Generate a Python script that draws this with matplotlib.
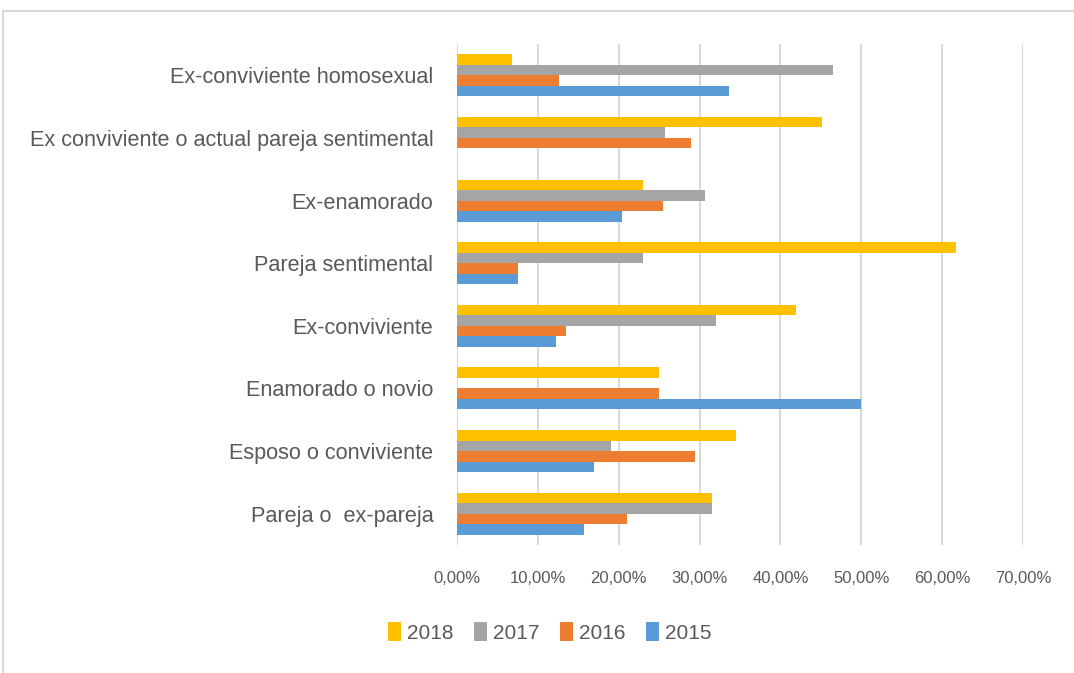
import matplotlib.pyplot as plt
import matplotlib.patches as mpatches
import numpy as np

# --------------------------------------------------------------
# Data (percent), categories listed bottom to top
# --------------------------------------------------------------
categories = [
    "Pareja o  ex-pareja",
    "Esposo o conviviente",
    "Enamorado o novio",
    "Ex-conviviente",
    "Pareja sentimental",
    "Ex-enamorado",
    "Ex conviviente o actual pareja sentimental",
    "Ex-conviviente homosexual",
]
years = ["2015", "2016", "2017", "2018"]
v2015 = [15.7, 16.9, 50.0, 12.2, 7.6, 20.4, 0.0, 33.7]
v2016 = [21.0, 29.4, 25.0, 13.5, 7.6, 25.5, 29.0, 12.6]
v2017 = [31.5, 19.0, 0.0, 32.0, 23.0, 30.7, 25.7, 46.5]
v2018 = [31.5, 34.5, 25.0, 41.9, 61.7, 23.0, 45.2, 6.8]
xticks = [0, 10, 20, 30, 40, 50, 60, 70]

colors = {"2015": "#5B9BD5", "2016": "#ED7D31", "2017": "#A5A5A5", "2018": "#FFC000"}

plt.rcParams["font.family"] = ["Liberation Sans", "DejaVu Sans"]

fig = plt.figure(figsize=(10.74, 6.73), dpi=100)
ax = fig.add_axes([0.4255, 0.1902, 0.5270, 0.7444])

# outer frame of the chart area (right and bottom edges are cut off)
fig.patches.append(mpatches.Rectangle((0.003, -0.05), 1.1, 1.034,
                                      transform=fig.transFigure, fill=False,
                                      edgecolor="#d9d9d9", linewidth=1.5))

y = np.arange(len(categories))
h = 0.168
series = [v2015, v2016, v2017, v2018]
for i, (yr, vals) in enumerate(zip(years, series)):
    ax.barh(y + (i - 1.5) * h, vals, height=h, color=colors[yr], label=yr, zorder=3)

ax.set_xlim(0, 70)
ax.set_ylim(-0.5, len(categories) - 0.5)
ax.set_xticks(xticks)
ax.set_xticklabels([f"{t:.2f}%".replace(".", ",") for t in xticks],
                   fontsize=12, color="#595959")
ax.set_yticks(y)
ax.set_yticklabels(categories, fontsize=15.6, color="#595959")
ax.tick_params(length=0)
ax.tick_params(axis="x", pad=19)
ax.tick_params(axis="y", pad=17)
ax.grid(axis="x", color="#d9d9d9", linewidth=1.5, zorder=0)
for s in ax.spines.values():
    s.set_visible(False)

handles, labels = ax.get_legend_handles_labels()
order = [3, 2, 1, 0]
fig.legend([handles[k] for k in order], [labels[k] for k in order],
           loc="center", bbox_to_anchor=(0.512, 0.06), ncol=4, frameon=False,
           fontsize=15, handlelength=0.6, handleheight=1.0, handletextpad=0.3,
           columnspacing=1.0, labelcolor="#595959")

fig.savefig("out.png", dpi=100)
